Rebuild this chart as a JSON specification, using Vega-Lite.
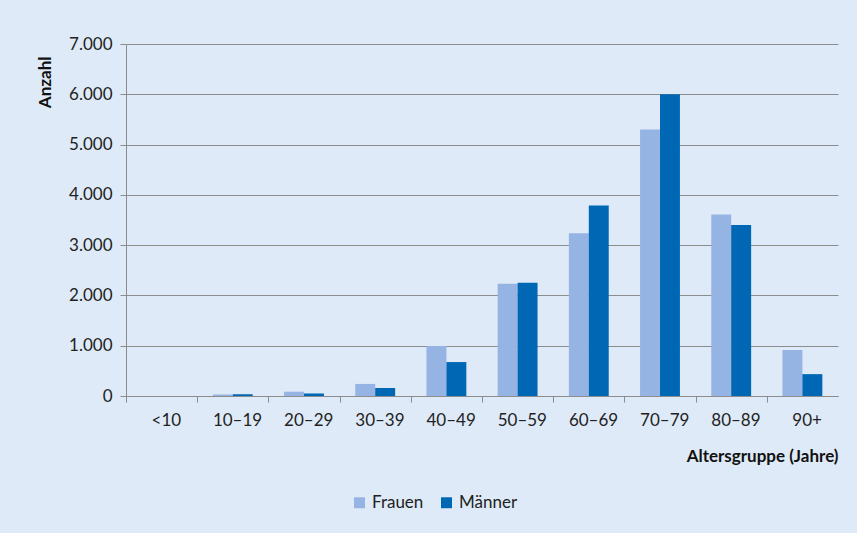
{
  "$schema": "https://vega.github.io/schema/vega-lite/v6.json",
  "autosize": {"type": "none"},
  "width": 712,
  "height": 352,
  "padding": {"left": 126, "top": 44, "right": 19, "bottom": 137},
  "background": "#deeaf7",
  "config": {
    "locale": {"number": {"decimal": ",", "thousands": ".", "grouping": [3], "currency": ["", " €"]}},
    "font": "Lato",
    "view": {"stroke": null},
    "axis": {"labelFont": "Lato", "titleFont": "Lato", "labelColor": "#222", "titleColor": "#111"}
  },
  "data": {
    "values": [
      {"gruppe": "<10", "geschlecht": "Frauen", "anzahl": 0},
      {"gruppe": "<10", "geschlecht": "Männer", "anzahl": 0},
      {"gruppe": "10–19", "geschlecht": "Frauen", "anzahl": 30},
      {"gruppe": "10–19", "geschlecht": "Männer", "anzahl": 35},
      {"gruppe": "20–29", "geschlecht": "Frauen", "anzahl": 85},
      {"gruppe": "20–29", "geschlecht": "Männer", "anzahl": 50},
      {"gruppe": "30–39", "geschlecht": "Frauen", "anzahl": 240},
      {"gruppe": "30–39", "geschlecht": "Männer", "anzahl": 160},
      {"gruppe": "40–49", "geschlecht": "Frauen", "anzahl": 995},
      {"gruppe": "40–49", "geschlecht": "Männer", "anzahl": 675},
      {"gruppe": "50–59", "geschlecht": "Frauen", "anzahl": 2230},
      {"gruppe": "50–59", "geschlecht": "Männer", "anzahl": 2250},
      {"gruppe": "60–69", "geschlecht": "Frauen", "anzahl": 3235},
      {"gruppe": "60–69", "geschlecht": "Männer", "anzahl": 3790},
      {"gruppe": "70–79", "geschlecht": "Frauen", "anzahl": 5300},
      {"gruppe": "70–79", "geschlecht": "Männer", "anzahl": 6000},
      {"gruppe": "80–89", "geschlecht": "Frauen", "anzahl": 3610},
      {"gruppe": "80–89", "geschlecht": "Männer", "anzahl": 3400},
      {"gruppe": "90+", "geschlecht": "Frauen", "anzahl": 915},
      {"gruppe": "90+", "geschlecht": "Männer", "anzahl": 435}
    ]
  },
  "mark": {"type": "bar"},
  "encoding": {
    "x": {
      "field": "gruppe",
      "type": "nominal",
      "sort": null,
      "scale": {"paddingInner": 0.44, "paddingOuter": 0.22},
      "axis": {
        "title": "Altersgruppe (Jahre)",
        "titleAnchor": "end",
        "titleFontWeight": "bold",
        "titleFontSize": 17,
        "titlePadding": 20,
        "labelAngle": 0,
        "labelFontSize": 17,
        "labelPadding": 10,
        "bandPosition": 0,
        "tickOffset": -15.66,
        "labelOffset": 19.9,
        "tickSize": 6,
        "tickColor": "#8c8c8c",
        "domainColor": "#8c8c8c",
        "grid": false
      }
    },
    "xOffset": {"field": "geschlecht", "type": "nominal", "sort": ["Frauen", "Männer"]},
    "y": {
      "field": "anzahl",
      "type": "quantitative",
      "scale": {"domain": [0, 7000], "nice": false},
      "axis": {
        "title": "Anzahl",
        "titleAnchor": "end",
        "titleFontWeight": "bold",
        "titleFontSize": 17,
        "titlePadding": 14,
        "titleY": 12,
        "format": ",d",
        "values": [0, 1000, 2000, 3000, 4000, 5000, 6000, 7000],
        "labelFontSize": 17,
        "labelPadding": 8,
        "tickSize": 6,
        "tickColor": "#8c8c8c",
        "domainColor": "#8c8c8c",
        "gridColor": "#8c8c8c",
        "gridWidth": 1
      }
    },
    "color": {
      "field": "geschlecht",
      "type": "nominal",
      "sort": ["Frauen", "Männer"],
      "scale": {"domain": ["Frauen", "Männer"], "range": ["#95b3e3", "#0067b4"]},
      "legend": {
        "title": null,
        "orient": "none",
        "direction": "horizontal",
        "legendX": 225,
        "legendY": 450,
        "symbolType": "square",
        "symbolSize": 120,
        "symbolStrokeWidth": 0,
        "labelFontSize": 17,
        "labelFont": "Lato",
        "labelColor": "#222",
        "columnPadding": 14
      }
    }
  }
}
